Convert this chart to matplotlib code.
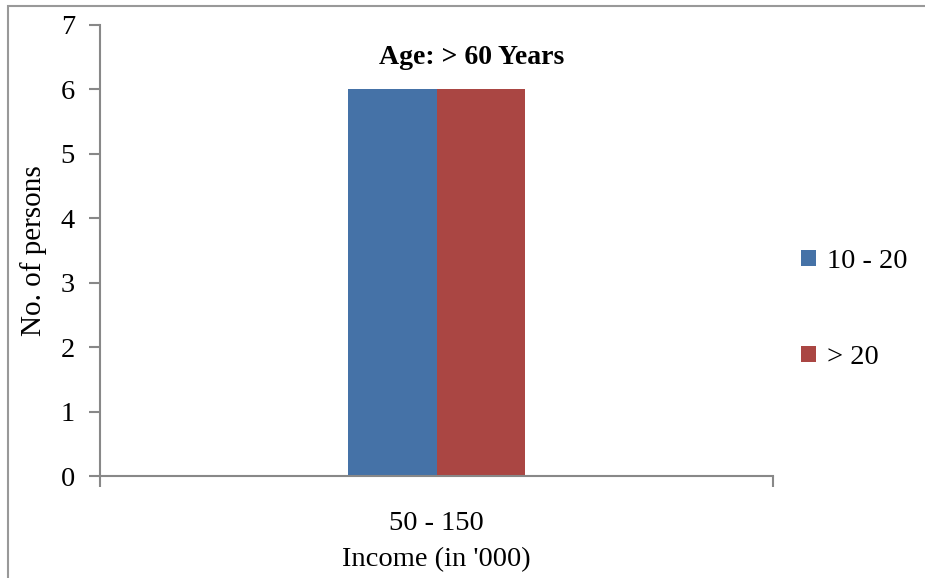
import matplotlib.pyplot as plt
from matplotlib.patches import Rectangle

plt.rcParams['font.family'] = ['Liberation Serif', 'DejaVu Serif']

categories = ["50 - 150"]
series_names = ["10 - 20", "> 20"]
values_10_20 = [6]
values_gt_20 = [6]
colors = ['#4572A7', '#AA4643']

fig = plt.figure(figsize=(9.25, 5.78), dpi=100)
ax = fig.add_axes([100 / 925, 102 / 578, 673 / 925, 451 / 578])

width = 0.132
x = list(range(len(categories)))
b1 = ax.bar([i - width / 2 for i in x], values_10_20, width, color=colors[0], label=series_names[0])
b2 = ax.bar([i + width / 2 for i in x], values_gt_20, width, color=colors[1], label=series_names[1])

ax.set_xlim(-0.5, len(categories) - 0.5)
ax.set_ylim(0, 7)
ax.set_yticks(range(0, 8))

# ticks between categories, labels at centres
ax.set_xticks([i - 0.5 for i in range(len(categories) + 1)])
ax.set_xticklabels([])
ax.set_xticks(x, minor=True)
ax.set_xticklabels(categories, minor=True)
ax.tick_params(axis='x', which='major', length=8, width=1.5, color='#888888', direction='out')
ax.tick_params(axis='x', which='minor', length=0, pad=25, labelsize=20.5)
ax.tick_params(axis='y', length=8, width=1.5, color='#888888', pad=10, labelsize=20.5)

for side in ['top', 'right']:
    ax.spines[side].set_visible(False)
for side in ['left', 'bottom']:
    ax.spines[side].set_color('#888888')
    ax.spines[side].set_linewidth(1.5)

ax.set_ylabel('No. of persons', fontsize=21, labelpad=10)
ax.set_xlabel("Income (in '000)", fontsize=20.5, labelpad=8)

fig.text(472 / 925, 1 - 58 / 578, 'Age: > 60 Years', fontsize=20, fontweight='bold',
         ha='center', va='center')

ax.legend(handles=[b1, b2], loc='center left', bbox_to_anchor=(1.004, 0.369), frameon=False,
          fontsize=20.5, handlelength=0.5, handleheight=0.5, handletextpad=0.4, labelspacing=2.5)

# outer chart border
fig.patches.append(Rectangle((8 / 925, -0.1), 1.2, 0.1 + 1 - 6 / 578, transform=fig.transFigure,
                             fill=False, edgecolor='#999999', linewidth=1.5))

fig.savefig('out.png', dpi=100)
